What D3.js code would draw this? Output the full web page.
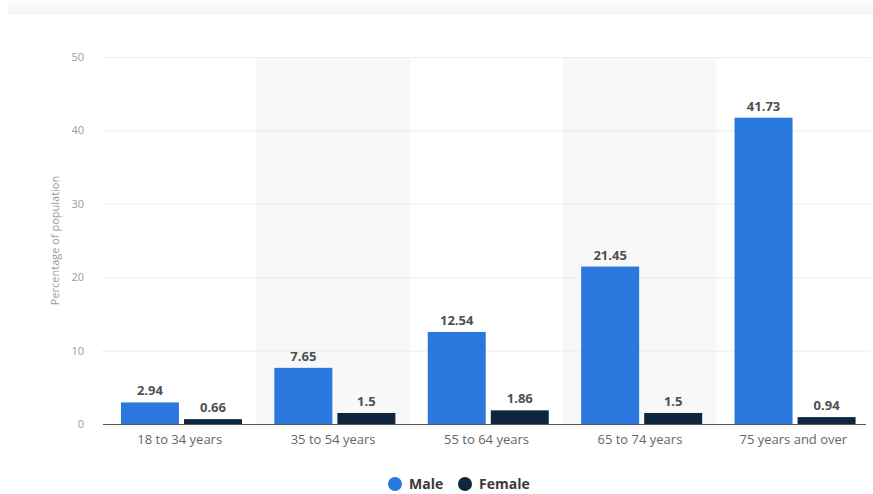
<!DOCTYPE html>
<html>
<head>
<meta charset="utf-8">
<script src="https://cdn.jsdelivr.net/npm/d3@7/dist/d3.min.js"></script>
<style>
  html, body { margin: 0; padding: 0; background: #fff; }
  svg { display: block; font-family: "Open Sans", "Noto Sans", sans-serif; }
</style>
</head>
<body>
<svg id="chart" width="873" height="494"></svg>
<script>
// Age groups and share of population by sex
const categories = ["18 to 34 years", "35 to 54 years", "55 to 64 years", "65 to 74 years", "75 years and over"];
const seriesNames = ["Male", "Female"];
const maleValues = [2.94, 7.65, 12.54, 21.45, 41.73];
const femaleValues = [0.66, 1.5, 1.86, 1.5, 0.94];
const yTicks = [0, 10, 20, 30, 40, 50];
const yTitle = "Percentage of population";

const colors = { Male: "#2a77dd", Female: "#10263f" };

const svg = d3.select("#chart");

const margin = { left: 103, right: 3, top: 57, bottom: 70 };
const W = 873, H = 494;

const x = d3.scaleBand().domain(categories).range([margin.left, W - margin.right]).padding(0);
const bw = x.bandwidth();
const xInner = d3.scaleBand().domain(seriesNames)
  .range([bw * 0.117, bw * 0.906]).paddingInner(0.08);
const y = d3.scaleLinear().domain([0, 50]).range([H - margin.bottom, margin.top]);

// header strip
const grad = svg.append("defs").append("linearGradient")
  .attr("id", "hdr").attr("x1", 0).attr("y1", 0).attr("x2", 0).attr("y2", 1);
grad.append("stop").attr("offset", "0%").attr("stop-color", "#fdfdfe");
grad.append("stop").attr("offset", "100%").attr("stop-color", "#f2f3f6");
svg.append("rect").attr("x", 8).attr("y", 0).attr("width", W - 8).attr("height", 14)
  .attr("fill", "url(#hdr)");

// alternating category bands
svg.append("g").selectAll("rect")
  .data(categories.filter((d, i) => i % 2 === 1))
  .join("rect")
  .attr("x", d => x(d))
  .attr("y", y(50))
  .attr("width", bw)
  .attr("height", y(0) - y(50))
  .attr("fill", "#f8f8f8");

// gridlines
svg.append("g").selectAll("line")
  .data(yTicks.filter(t => t > 0))
  .join("line")
  .attr("x1", margin.left).attr("x2", W - margin.right)
  .attr("y1", d => y(d) + 0.5).attr("y2", d => y(d) + 0.5)
  .attr("stroke", "#dcdcdc")
  .attr("stroke-dasharray", "1,1");

// y axis labels
const yAxis = d3.axisLeft(y).tickValues(yTicks).tickSize(0).tickPadding(0);
const gy = svg.append("g").attr("transform", `translate(${margin.left - 19},0)`).call(yAxis);
gy.select(".domain").remove();
gy.selectAll("text").attr("fill", "#9a9a9a").style("font-size", "11px")
  .style("font-family", "'Open Sans', sans-serif");

svg.append("text")
  .attr("transform", `translate(59,${(y(0) + y(50)) / 2}) rotate(-90)`)
  .attr("text-anchor", "middle")
  .attr("fill", "#9a9a9a")
  .style("font-size", "11px")
  .text(yTitle);

// bars
const rows = categories.map((c, i) => ({ cat: c, Male: maleValues[i], Female: femaleValues[i] }));
const groups = svg.append("g").selectAll("g")
  .data(rows).join("g")
  .attr("transform", d => `translate(${x(d.cat)},0)`);

groups.selectAll("rect")
  .data(d => seriesNames.map(k => ({ key: k, value: d[k] })))
  .join("rect")
  .attr("x", d => xInner(d.key))
  .attr("width", xInner.bandwidth())
  .attr("y", d => y(d.value))
  .attr("height", d => y(0) - y(d.value))
  .attr("fill", d => colors[d.key]);

groups.selectAll("text")
  .data(d => seriesNames.map(k => ({ key: k, value: d[k] })))
  .join("text")
  .attr("x", d => xInner(d.key) + xInner.bandwidth() / 2)
  .attr("y", d => y(d.value) - 7)
  .attr("text-anchor", "middle")
  .attr("fill", "#505050")
  .style("font-size", "13px")
  .style("font-weight", "bold")
  .text(d => d.value);

// x axis
const xAxis = d3.axisBottom(x).tickSize(0).tickPadding(11);
const gx = svg.append("g").attr("transform", `translate(0,${y(0)})`).call(xAxis);
gx.select(".domain").attr("stroke", "#555").attr("d", `M${margin.left},0.5H${W - 7}`);
gx.selectAll("text").attr("fill", "#666").style("font-size", "13px")
  .style("font-family", "'Open Sans', sans-serif");

// legend
const legendItems = [{ key: "Male", cx: 395 }, { key: "Female", cx: 465 }];
const lg = svg.append("g");
lg.selectAll("circle").data(legendItems).join("circle")
  .attr("cx", d => d.cx).attr("cy", 484).attr("r", 7)
  .attr("fill", d => colors[d.key]);
lg.selectAll("text").data(legendItems).join("text")
  .attr("x", d => d.cx + 14).attr("y", 489)
  .attr("fill", "#3a3a3a")
  .style("font-size", "14px")
  .style("font-weight", "bold")
  .text(d => d.key);
</script>
</body>
</html>
